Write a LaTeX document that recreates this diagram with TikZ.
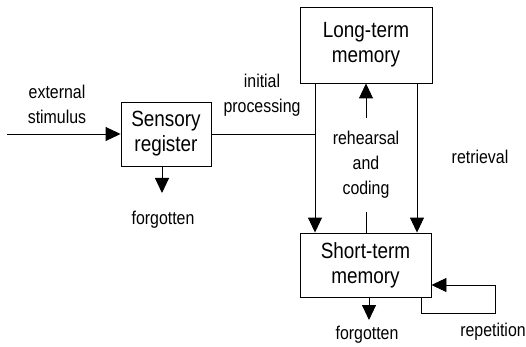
\documentclass[tikz,border=0pt]{standalone}
\usepackage{fontspec}
\setmainfont[FakeStretch=0.86]{Liberation Sans}
\usetikzlibrary{arrows.meta}
\tikzset{
  box/.style={draw, line width=0.9pt, align=center, font=\fontsize{22}{25}\selectfont, inner sep=0pt},
  lbl/.style={align=center, font=\fontsize{18.5}{25}\selectfont, inner sep=0pt},
  arr/.style={line width=0.9pt, -{Triangle[length=15pt,width=14pt]}},
  ln/.style={line width=0.9pt}
}
\begin{document}
\begin{tikzpicture}[x=1pt,y=-1pt]
\useasboundingbox (0,0) rectangle (526,347);
% boxes
\node[box, minimum width=90pt, minimum height=64pt] (sr) at (166,134) {Sensory\\register};
\node[box, minimum width=132pt, minimum height=76pt] (ltm) at (366,45) {Long-term\\memory};
\node[box, minimum width=131pt, minimum height=64pt] (stm) at (365.5,265) {Short-term\\memory};
% labels
\node[lbl] (es) at (57,104) {external\\stimulus};
\node[lbl] (ip) at (262,95) {initial\\processing};
\node[lbl, minimum height=93pt] (rc) at (366,165) {rehearsal\\and\\coding};
\node[lbl] (rt) at (480,157) {retrieval};
\node[lbl] (f1) at (163,220) {forgotten};
\node[lbl] (f2) at (367,335) {forgotten};
\node[lbl] (rp) at (493,332) {repetition};
% coordinates
\coordinate (src) at (7,134);
\coordinate (jl) at (315,134);
\coordinate (jr) at (417,134);
\coordinate (d1) at (162,193);
\coordinate (d2) at (369,320);
\coordinate (r1) at (421,313);
\coordinate (r2) at (495,285);
% connectors
\draw[arr] (src) -- (sr.west);
\draw[ln] (sr.east) -- (jl);
\draw[arr] (ltm.south -| jl) -- (stm.north -| jl);
\draw[arr] (ltm.south -| jr) -- (stm.north -| jr);
\draw[ln] (stm.north -| rc) -- (rc.south);
\draw[arr] (rc.north) -- (ltm.south -| rc);
\draw[arr] (sr.south -| d1) -- (d1);
\draw[arr] (stm.south -| d2) -- (d2);
\draw[arr] (stm.south -| r1) -- (r1) -| (r2) -- (stm.east |- r2);
\end{tikzpicture}
\end{document}
